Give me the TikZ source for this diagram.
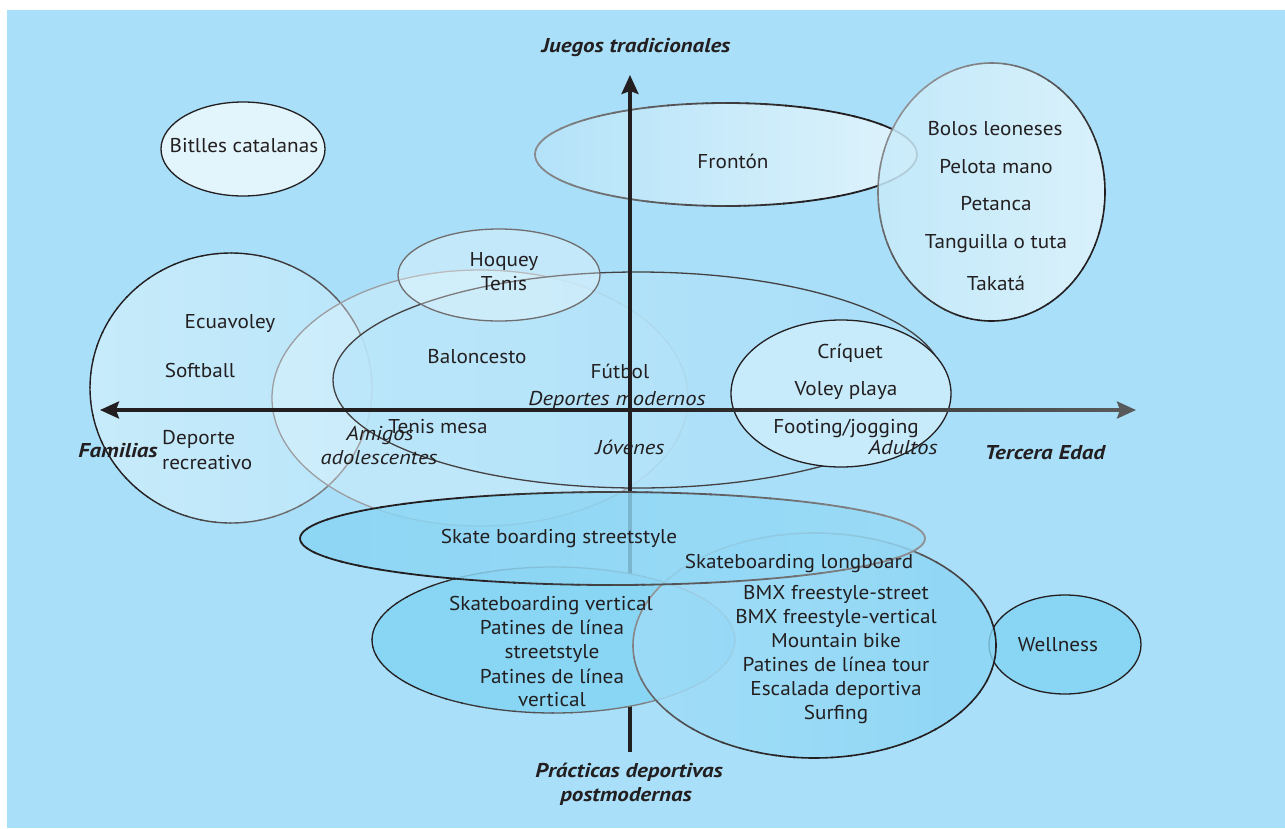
\documentclass[tikz,border=0pt]{standalone}
\usepackage{fontspec}
\setmainfont{PT Sans}[FakeStretch=1.06]
\newfontfamily\itfam{PT Sans}[FakeStretch=1.13]
\newfontfamily\bifam{PT Sans}[FakeStretch=1.15]
\usetikzlibrary{arrows.meta}
\definecolor{bg}{HTML}{A9DFF9}
\definecolor{pale}{HTML}{E2F4FC}
\definecolor{mid}{HTML}{C7EBFA}
\definecolor{deep}{HTML}{88D5F4}
\definecolor{ink}{HTML}{231F20}
\definecolor{faint}{HTML}{9C9EA1}
\definecolor{axisgray}{HTML}{58595B}
% ellipse outline whose colour goes from ink (towards angle #6) to faint
\newcommand\gradellipse[7]{%
  \foreach \ang in {0,6,...,354}{%
    \pgfmathtruncatemacro\wgt{max(0,min(100,#7+60*cos(\ang+3-#6)))}%
    \draw[line width=#5, draw=ink!\wgt!faint] ({#1+#3*cos(\ang)},{#2+#4*sin(\ang)}) arc[start angle=\ang, end angle=\ang+6.6, x radius=#3, y radius=#4];
  }}
\begin{document}
\begin{tikzpicture}[x=1pt,y=-1pt,
  txt/.style={font=\fontsize{20}{24}\selectfont, text=ink, inner sep=0pt, anchor=base},
  itxt/.style={txt, font=\fontsize{20}{24}\selectfont\itfam\itshape},
  btxt/.style={txt, font=\fontsize{20}{24}\selectfont\bifam\bfseries\itshape},
  rim/.style={line width=1.3pt, draw=ink},
  softrim/.style={line width=#1, draw=faint},
  axisline/.style={line width=3.4pt, -{Stealth[length=19pt,width=17pt,inset=3pt]}}
]
\useasboundingbox (0,0) rectangle (1285,828);
\fill[white] (0,0) rectangle (1285,828);
\fill[bg] (7,10) rectangle (1285,828);

% --- traditional games ---
\draw[rim, fill=pale] (243,149) ellipse [x radius=82, y radius=47];

\shade[left color=bg!80!pale, right color=pale, fill opacity=0.95] (726,154.5) ellipse [x radius=191, y radius=51.5];
\gradellipse{726}{154.5}{191}{51.5}{1.8pt}{0}{75}

\shade[left color=mid, right color=pale, fill opacity=0.85] (991.5,192) ellipse [x radius=113.5, y radius=129];
\gradellipse{991.5}{192}{113.5}{129}{1.6pt}{45}{70}

% --- modern sports ---
\shade[left color=mid, right color=mid!55!bg] (231,388) ellipse [x radius=141, y radius=135];
\gradellipse{231}{388}{141}{135}{1.4pt}{200}{80}

\fill[white, fill opacity=0.25] (480,398) ellipse [x radius=208, y radius=128];
\draw[softrim=1.3pt] (480,398) ellipse [x radius=208, y radius=128];

\shade[left color=mid!60!bg, right color=bg, fill opacity=0.85] (638,380) ellipse [x radius=305, y radius=108];
\draw[line width=1.3pt, ink!85] (638,380) ellipse [x radius=305, y radius=108];

\fill[white, fill opacity=0.3] (499,275) ellipse [x radius=101, y radius=46];
\draw[line width=1.3pt, ink!65] (499,275) ellipse [x radius=101, y radius=46];

\draw[rim, fill=mid] (841,393.5) ellipse [x radius=110, y radius=73.5];

% --- axes ---
\coordinate (o) at (630,410);
\coordinate (up) at (630,75);
\coordinate (down) at (630,752);
\coordinate (west) at (100,410);
\coordinate (east) at (1136,410);
\coordinate (eastpre) at (1108,410);
\draw[axisline, ink] (down) -- (up);
\draw[axisline, ink] (o) -- (west);
\shade[left color=ink, right color=axisgray] (630,408.3) rectangle (1112,411.7);
\draw[axisline, axisgray] (eastpre) -- (east);

% --- postmodern practices ---
\draw[rim, fill=deep] (1065,644.5) ellipse [x radius=76, y radius=49.5];

\fill[deep] (553.5,640) ellipse [x radius=181.5, y radius=73];
\gradellipse{553.5}{640}{181.5}{73}{1.3pt}{180}{55}

\shade[left color=bg!75!deep, right color=deep, fill opacity=0.8] (814.5,645.5) ellipse [x radius=181.5, y radius=112.5];
\gradellipse{814.5}{645.5}{181.5}{112.5}{1.6pt}{45}{65}

\shade[left color=deep, right color=deep!55!bg, fill opacity=0.82] (612.5,538.5) ellipse [x radius=312.5, y radius=46.5];
\gradellipse{612.5}{538.5}{312.5}{46.5}{1.8pt}{180}{70}

% --- texts ---
\node[btxt] (tJuegos) at (636,52) {Juegos tradicionales};
\node[btxt] (tFam) at (118,457) {Familias};
\node[btxt] (tTer) at (1045,459) {Tercera Edad};
\node[btxt] (tPra1) at (629,777) {Prácticas deportivas};
\node[btxt] (tPra2) at (626,801) {postmodernas};

\node[txt] (tBit) at (244,152) {Bitlles catalanas};
\node[txt] (tFro) at (733,168) {Frontón};
\node[txt] (tBol) at (995,135) {Bolos leoneses};
\node[txt] (tPel) at (996,173) {Pelota mano};
\node[txt] (tPet) at (996,210) {Petanca};
\node[txt] (tTan) at (996,248) {Tanguilla o tuta};
\node[txt] (tTak) at (996,290) {Takatá};

\node[txt] (tHoq) at (504,266) {Hoquey};
\node[txt] (tTen) at (504,290) {Tenis};
\node[txt] (tEcu) at (230,328) {Ecuavoley};
\node[txt] (tSof) at (200,377) {Softball};
\node[txt] (tBal) at (477,363) {Baloncesto};
\node[txt] (tFut) at (620,378) {Fútbol};
\node[itxt] (tDep) at (617,405) {Deportes modernos};
\node[txt, anchor=base west] (tDr1) at (162,444) {Deporte};
\node[txt, anchor=base west] (tDr2) at (162,469) {recreativo};
\node[itxt] (tAmi1) at (380,440) {Amigos};
\node[itxt] (tAmi2) at (379,464) {adolescentes};
\node[txt] (tTme) at (438,433) {Tenis mesa};
\node[itxt] (tJov) at (630,454) {Jóvenes};

\node[txt] (tCri) at (850,358) {Críquet};
\node[txt] (tVol) at (846,395) {Voley playa};
\node[txt] (tFoo) at (846,433) {Footing/jogging};
\node[itxt] (tAdu) at (903,454) {Adultos};

\node[txt] (tSks) at (559,543) {Skate boarding streetstyle};
\node[txt] (tSkl) at (799,568) {Skateboarding longboard};
\node[txt] (tSkv) at (551,610) {Skateboarding vertical};
\node[txt] (tPl1) at (552,634) {Patines de línea};
\node[txt] (tSts) at (552,658) {streetstyle};
\node[txt] (tPl2) at (552,683) {Patines de línea};
\node[txt] (tVer) at (552,706) {vertical};

\node[txt] (tB1) at (836,599) {BMX freestyle-street};
\node[txt] (tB2) at (836,623) {BMX freestyle-vertical};
\node[txt] (tMou) at (836,647) {Mountain bike};
\node[txt] (tPlt) at (836,671) {Patines de línea tour};
\node[txt] (tEsc) at (836,695) {Escalada deportiva};
\node[txt] (tSur) at (836,719) {Surfing};
\node[txt] (tWel) at (1058,651) {Wellness};
\end{tikzpicture}
\end{document}
